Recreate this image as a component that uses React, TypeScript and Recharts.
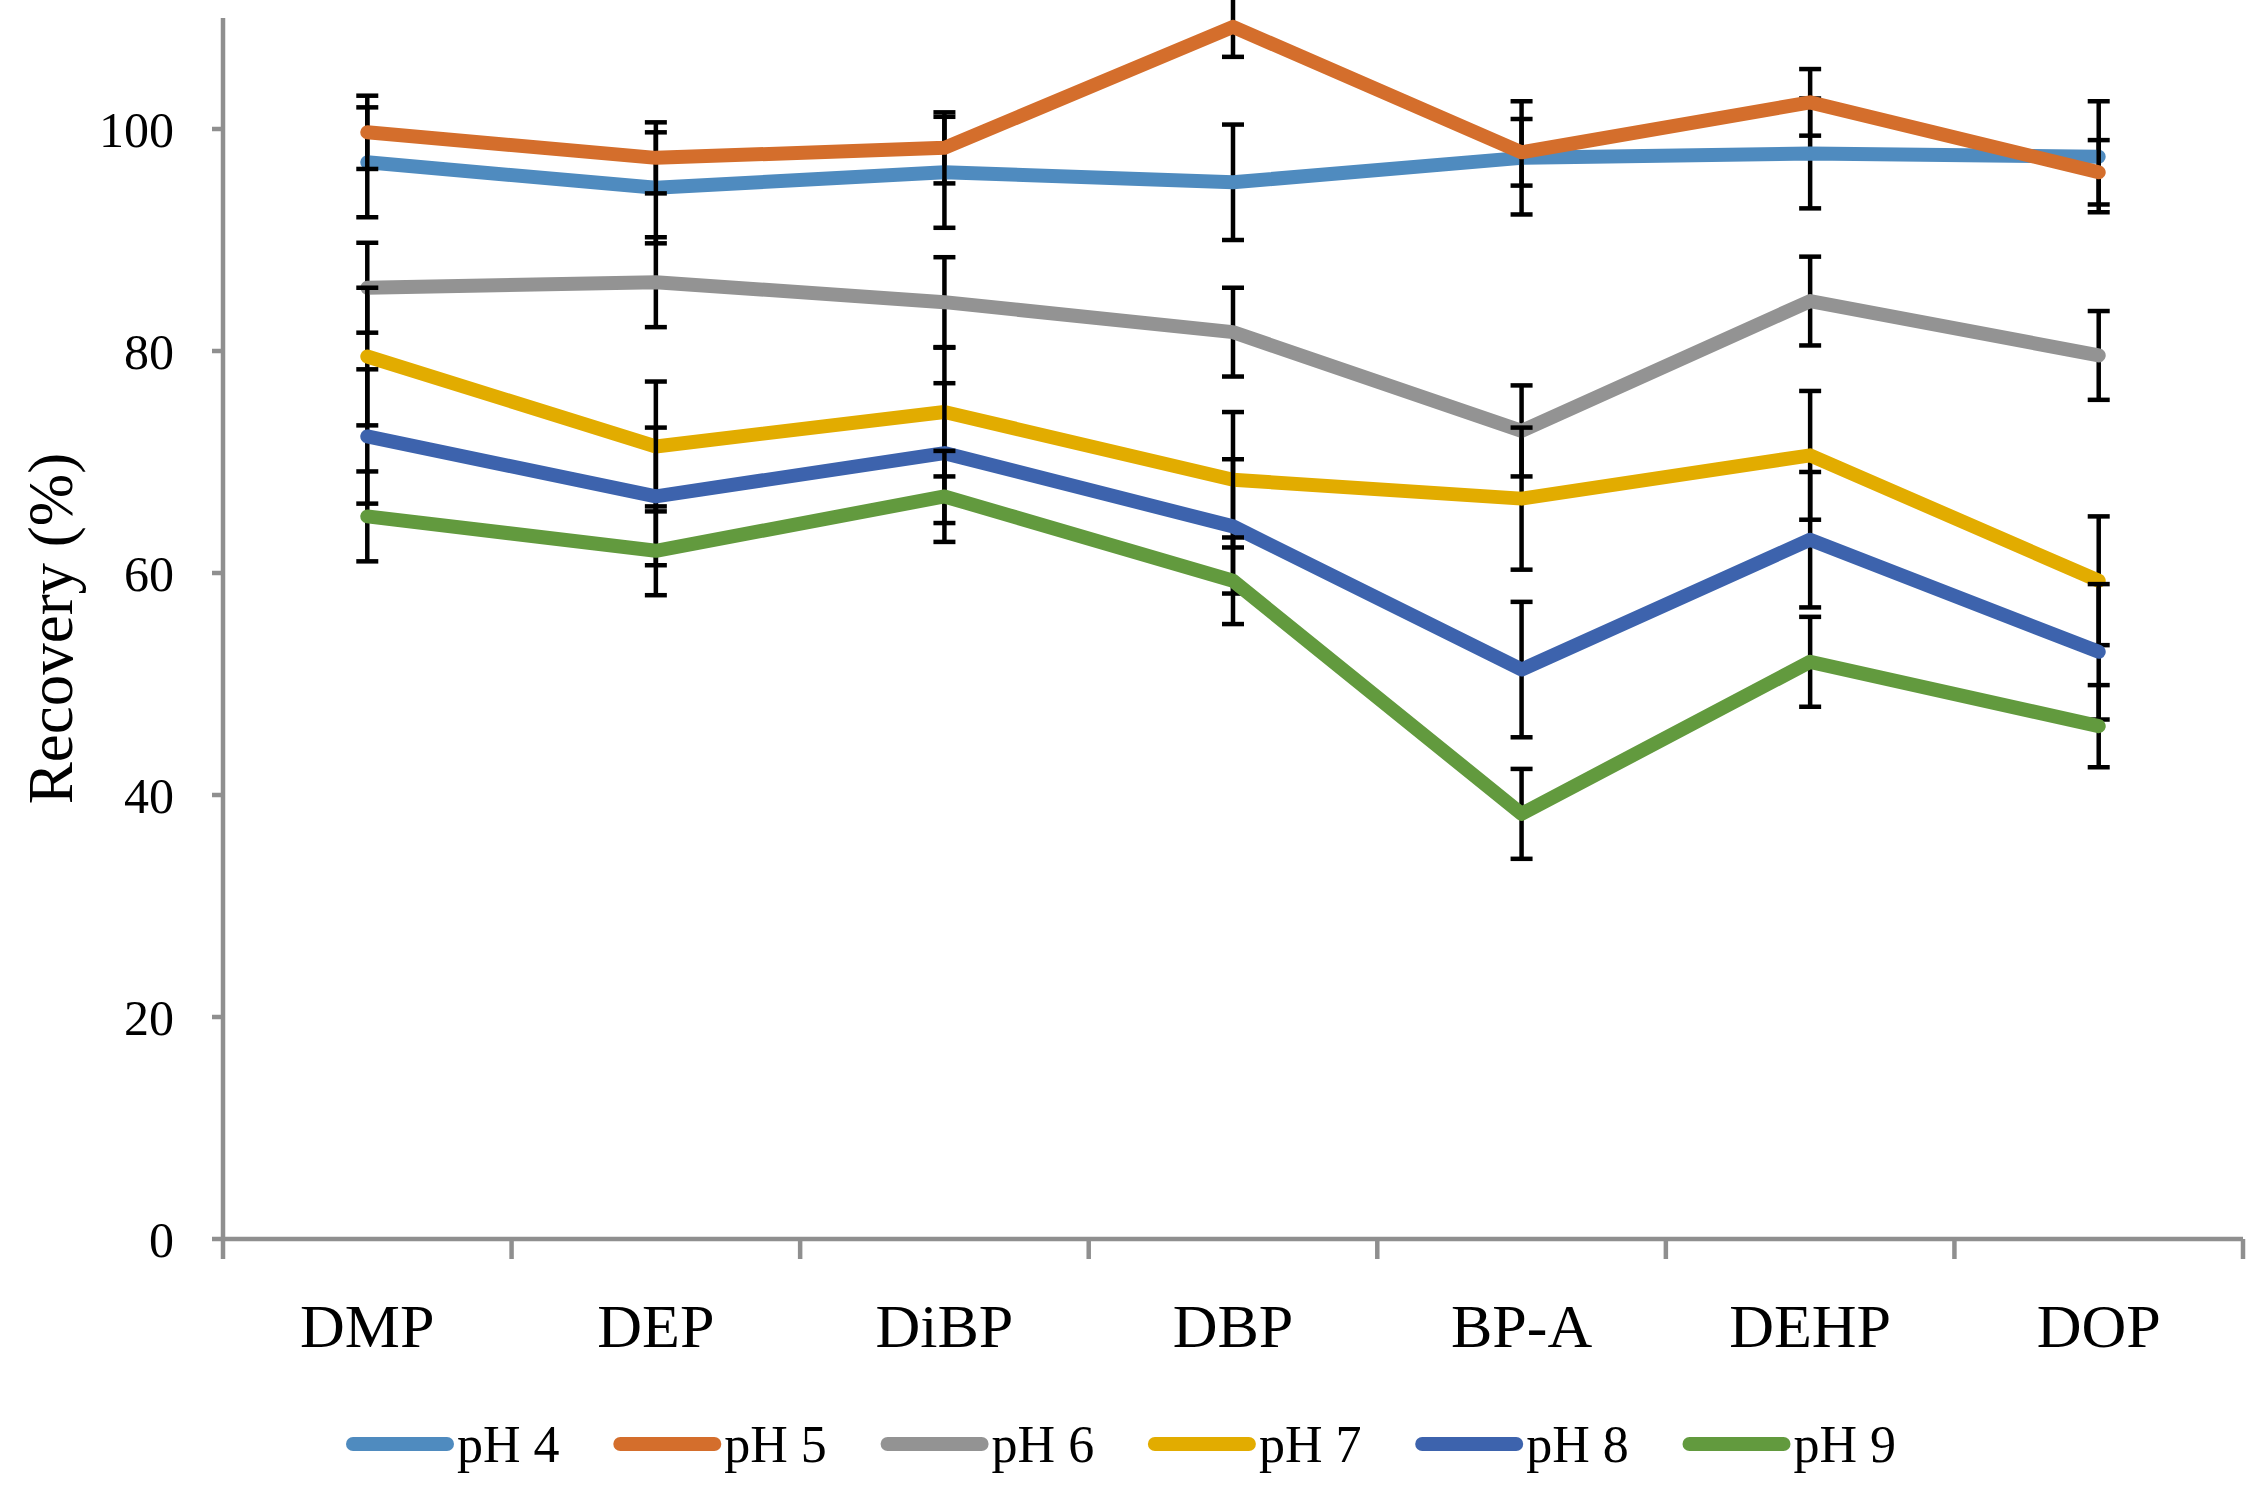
import React from "react";
import { LineChart, Line, XAxis, YAxis, ErrorBar, Legend } from "recharts";

const FONT = '"Liberation Serif", "Times New Roman", serif';
const AXIS = "#8f8f8f";

const compounds = ["DMP", "DEP", "DiBP", "DBP", "BP-A", "DEHP", "DOP"];
const yTicks = [0, 20, 40, 60, 80, 100];
const seriesNames = ["pH 4", "pH 5", "pH 6", "pH 7", "pH 8", "pH 9"];
const colors = ["#4f8bbf", "#d46e2c", "#939393", "#e2ac00", "#3d63ad", "#629a3e"];

// recovery (%) per compound
const ph4 = [97.0, 94.7, 96.1, 95.2, 97.4, 97.8, 97.5];
const ph5 = [99.7, 97.4, 98.3, 109.2, 97.9, 102.4, 96.1];
const ph6 = [85.7, 86.2, 84.4, 81.7, 72.8, 84.5, 79.6];
const ph7 = [79.5, 71.4, 74.5, 68.4, 66.7, 70.6, 59.3];
const ph8 = [72.3, 66.9, 70.8, 64.2, 51.3, 63.0, 52.9];
const ph9 = [65.1, 62.0, 66.9, 59.3, 38.3, 52.0, 46.2];

// error (+/-)
const ph4Err = [4.95, 5.0, 5.0, 5.2, 5.1, 4.95, 5.0];
const ph5Err = [3.3, 3.2, 3.2, 2.7, 3.0, 3.0, 2.9];
const ph6Err = [4.05, 4.05, 4.05, 4.0, 4.1, 4.0, 4.0];
const ph7Err = [6.2, 5.85, 5.8, 6.1, 6.4, 5.8, 5.8];
const ph8Err = [6.05, 6.2, 6.3, 6.05, 6.1, 6.1, 6.1];
const ph9Err = [4.05, 4.0, 4.1, 3.9, 4.05, 4.05, 3.7];

const values = [ph4, ph5, ph6, ph7, ph8, ph9];
const errors = [ph4Err, ph5Err, ph6Err, ph7Err, ph8Err, ph9Err];

const data = compounds.map((name, i) => {
  const row: Record<string, any> = { name, pos: i + 0.5 };
  values.forEach((v, s) => {
    row[`s${s}`] = v[i];
    row[`e${s}`] = errors[s][i];
  });
  return row;
});

// boundaries get tick marks, band centres get the labels
const xTicks = [...compounds.flatMap((_, i) => [i, i + 0.5]), compounds.length];

function XTick(props: any) {
  const { x, y, payload } = props;
  const v = payload.value;
  if (Number.isInteger(v)) {
    return <line x1={x} y1={y} x2={x} y2={y + 20} stroke={AXIS} strokeWidth={4.5} />;
  }
  return (
    <text x={x} y={y + 108} textAnchor="middle" fontSize={62} fontFamily={FONT} fill="#000">
      {compounds[Math.floor(v)]}
    </text>
  );
}

function LegendRow({ payload }: { payload?: any[] }) {
  const items = payload || [];
  return (
    <svg width={2268} height={60}>
      {items.map((it, i) => {
        const x0 = 346 + i * 267.3;
        return (
          <g key={i}>
            <line x1={x0 + 7} y1={30} x2={x0 + 101} y2={30} stroke={it.color} strokeWidth={14} strokeLinecap="round" />
            <text x={x0 + 111} y={48} fontSize={52} fontFamily={FONT} fill="#000">
              {it.value}
            </text>
          </g>
        );
      })}
    </svg>
  );
}

function YLabel(props: any) {
  const vb = props.viewBox || {};
  const cy = vb.y + vb.height / 2;
  return (
    <text x={72} y={cy} transform={`rotate(-90 72 ${cy})`} textAnchor="middle" fontSize={63} fontFamily={FONT} fill="#000">
      Recovery (%)
    </text>
  );
}

export default function App() {
  return (
    <div style={{ position: "absolute", left: 0, top: 0, width: 2268, height: 1500, background: "#fff" }}>
      <LineChart width={2268} height={1500} data={data} margin={{ top: 18, right: 25, left: 0, bottom: 0 }}>
        <XAxis
          dataKey="pos"
          type="number"
          domain={[0, compounds.length]}
          ticks={xTicks}
          interval={0}
          height={261}
          tickSize={0}
          tickMargin={0}
          tickLine={false}
          axisLine={{ stroke: AXIS, strokeWidth: 4.5 }}
          tick={<XTick />}
        />
        <YAxis
          type="number"
          domain={[0, 110]}
          ticks={yTicks}
          allowDataOverflow
          width={223}
          tickSize={11}
          tickMargin={38}
          axisLine={{ stroke: AXIS, strokeWidth: 4.5 }}
          tickLine={{ stroke: AXIS, strokeWidth: 4.5 }}
          tick={{ fontSize: 50, fill: "#000", fontFamily: FONT }}
          label={<YLabel />}
        />
        <Legend
          layout="horizontal"
          verticalAlign="middle"
          align="center"
          wrapperStyle={{ position: "absolute", top: 1414, left: 0, width: 2268, height: 60 }}
          content={(p: any) => <LegendRow payload={p.payload} />}
        />
        {seriesNames.map((nm, s) => (
          <Line
            key={nm}
            type="linear"
            dataKey={`s${s}`}
            name={nm}
            stroke={colors[s]}
            strokeWidth={14}
            strokeLinecap="round"
            strokeLinejoin="round"
            dot={false}
            activeDot={false}
            isAnimationActive={false}
          >
            <ErrorBar dataKey={`e${s}`} direction="y" width={11} strokeWidth={4.5} stroke="#000" isAnimationActive={false} />
          </Line>
        ))}
      </LineChart>
    </div>
  );
}
